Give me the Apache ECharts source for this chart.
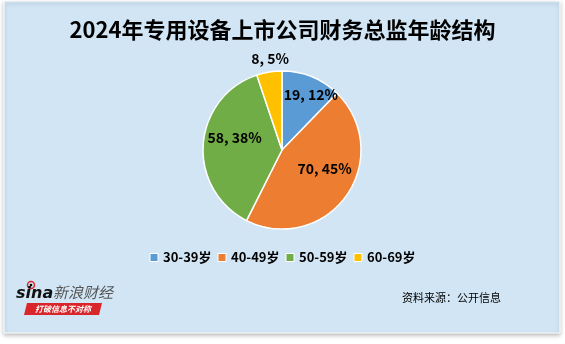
<!DOCTYPE html>
<html>
<head>
<meta charset="utf-8">
<script src="https://cdn.jsdelivr.net/npm/echarts@6/dist/echarts.min.js"></script>
<style>
html,body{margin:0;padding:0;background:#fff;}
#c{width:565px;height:344px;}
</style>
</head>
<body>
<div id="c"></div>
<script>
const titleText = '2024年专用设备上市公司财务总监年龄结构';
const categories = ['30-39岁', '40-49岁', '50-59岁', '60-69岁'];
const counts = [19, 70, 58, 8];
const percentLabels = ['12%', '45%', '38%', '5%'];
const sourceText = '资料来源：公开信息';

const colors = ['#5B9BD5', '#ED7D31', '#70AD47', '#FFC000'];
// label nudges (style only)
const labelShift = [[13, -16], [8, -6], [-5, -9], [-5, -49]];

const FONT = '"Noto Sans CJK SC", "Noto Sans", sans-serif';
const chart = echarts.init(document.getElementById('c'), null, {renderer: 'canvas'});

const option = {
  backgroundColor: '#ffffff',
  color: colors,
  animation: false,
  title: {
    text: titleText,
    left: 'center',
    top: 14,
    textStyle: {fontFamily: FONT, fontSize: 22, fontWeight: 'bold', color: '#000'}
  },
  legend: {
    data: categories,
    left: 'center',
    top: 246,
    icon: 'rect',
    itemWidth: 8,
    itemHeight: 8,
    itemGap: 6,
    itemStyle: {borderColor: '#fff', borderWidth: 1},
    textStyle: {fontFamily: FONT, fontSize: 13, fontWeight: 'bold', color: '#000'}
  },
  graphic: [
    {
      type: 'rect', z: -10, silent: true,
      shape: {x: 4, y: 1, width: 556, height: 332},
      style: {fill: '#D1E5F4', stroke: '#ffffff', lineWidth: 1,
        shadowBlur: 4, shadowColor: 'rgba(0,0,0,0.25)', shadowOffsetY: 2}
    },
    {
      type: 'text', left: 402, top: 292,
      style: {text: sourceText, font: '11px ' + FONT, fill: '#000'}
    },
    {
      type: 'group', left: 16, top: 279,
      children: [
        {type: 'circle', shape: {cx: 15, cy: 5, r: 3.5}, style: {fill: 'none', stroke: '#D9262B', lineWidth: 1.5}},
        {type: 'circle', shape: {cx: 15, cy: 5, r: 1.3}, style: {fill: '#000'}},
        {type: 'text', x: 0, y: 6, style: {text: 'sina', font: 'italic bold 16px "DejaVu Sans", sans-serif', fill: '#111'}},
        {type: 'text', x: 37, y: 5, style: {text: '新浪财经', font: 'italic 15px ' + FONT, fill: '#555'}},
        {type: 'polygon', shape: {points: [[11, 23], [86, 23], [83, 35], [8, 35]]}, style: {fill: '#D9262B'}},
        {type: 'text', x: 47, y: 29, style: {text: '打破信息不对称', font: 'italic bold 8px ' + FONT, fill: '#fff', align: 'center', verticalAlign: 'middle'}}
      ]
    }
  ],
  series: [{
    type: 'pie',
    center: [282, 150],
    radius: [0, 79],
    startAngle: 90,
    clockwise: true,
    avoidLabelOverlap: false,
    itemStyle: {borderColor: '#fff', borderWidth: 1.5},
    label: {
      show: true,
      position: 'inside',
      fontFamily: FONT,
      fontSize: 14,
      fontWeight: 'bold',
      color: '#000',
      formatter: function (p) { return counts[p.dataIndex] + ', ' + percentLabels[p.dataIndex]; }
    },
    labelLine: {show: false},
    labelLayout: function (p) {
      return {dx: labelShift[p.dataIndex][0], dy: labelShift[p.dataIndex][1]};
    },
    emphasis: {disabled: true},
    data: categories.map(function (c, i) { return {name: c, value: counts[i]}; })
  }]
};
chart.setOption(option);
</script>
</body>
</html>
